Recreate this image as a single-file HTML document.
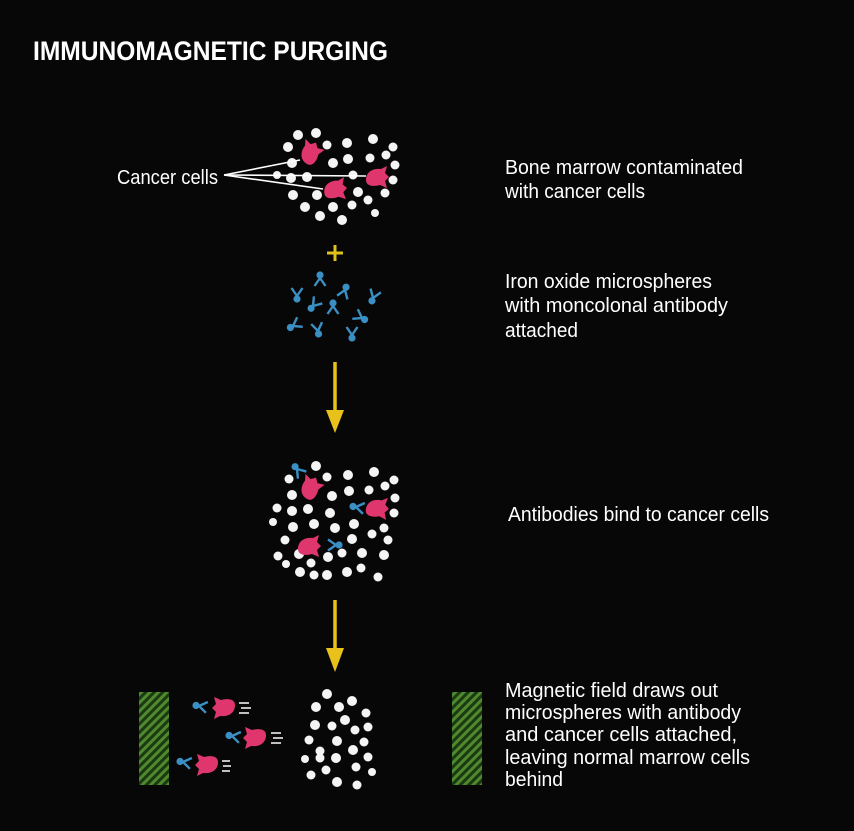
<!DOCTYPE html>
<html><head><meta charset="utf-8"><style>
html,body{margin:0;padding:0;background:#080707;}
svg{display:block}
text{font-family:"Liberation Sans Narrow","Liberation Sans",sans-serif;fill:#fff;}
</style></head><body>
<svg width="854" height="831" viewBox="0 0 854 831" xmlns="http://www.w3.org/2000/svg">
<defs>
<pattern id="hatch" width="6" height="6" patternUnits="userSpaceOnUse" patternTransform="rotate(45)">
<rect width="6" height="6" fill="#1c3a12"/><rect width="3" height="6" fill="#4f8a2e"/>
</pattern>
<g id="ab"><path d="M0 0 L-5.5 -8 M0 0 L5.5 -8" stroke="#3a8fc4" stroke-width="2.4" fill="none"/><circle cx="0" cy="3" r="3.6" fill="#3a8fc4"/></g>
<path id="cc" d="M-11 3 C-11 -6 -3 -9 4 -8 L10 -11 L8 -4 L12 0 L8 4 L10 11 L3 8 C-4 10 -11 9 -11 3Z" fill="#e0366e"/>
</defs>
<text x="33" y="60" font-size="27" font-weight="bold" textLength="355" lengthAdjust="spacingAndGlyphs" style="font-family:'Liberation Sans',sans-serif">IMMUNOMAGNETIC PURGING</text>

<g fill="#f4f4f4">
<circle cx="298" cy="135" r="5"/><circle cx="316" cy="133" r="5"/><circle cx="327" cy="145" r="4.5"/><circle cx="347" cy="143" r="5"/><circle cx="373" cy="139" r="5"/><circle cx="393" cy="147" r="4.5"/><circle cx="288" cy="147" r="5"/><circle cx="348" cy="159" r="5"/><circle cx="333" cy="163" r="5"/><circle cx="370" cy="158" r="4.5"/><circle cx="386" cy="155" r="4.5"/><circle cx="395" cy="165" r="4.5"/><circle cx="292" cy="163" r="5"/><circle cx="277" cy="175" r="4"/><circle cx="291" cy="178" r="5"/><circle cx="307" cy="177" r="5"/><circle cx="353" cy="175" r="4.5"/><circle cx="393" cy="180" r="4.5"/><circle cx="293" cy="195" r="5"/><circle cx="317" cy="195" r="5"/><circle cx="358" cy="192" r="5"/><circle cx="368" cy="200" r="4.5"/><circle cx="385" cy="193" r="4.5"/><circle cx="305" cy="207" r="5"/><circle cx="333" cy="207" r="5"/><circle cx="352" cy="205" r="4.5"/><circle cx="320" cy="216" r="5"/><circle cx="342" cy="220" r="5"/><circle cx="375" cy="213" r="4"/>
</g>
<use href="#cc" transform="translate(310,153) rotate(-60)"/>
<use href="#cc" transform="translate(377,177)"/>
<use href="#cc" transform="translate(335,189) rotate(-5)"/>
<g stroke="#fff" stroke-width="1.6"><line x1="224" y1="175" x2="300" y2="160"/><line x1="224" y1="175" x2="366" y2="176"/><line x1="224" y1="175" x2="323" y2="189"/></g>
<text x="117" y="184" font-size="20" textLength="101" lengthAdjust="spacingAndGlyphs">Cancer cells</text>

<g stroke="#e0c21c" stroke-width="3"><line x1="327" y1="253" x2="343" y2="253"/><line x1="335" y1="245" x2="335" y2="261"/></g>

<use href="#ab" transform="translate(320,278) rotate(180)"/>
<use href="#ab" transform="translate(345,290) rotate(200)"/>
<use href="#ab" transform="translate(373,298) rotate(20)"/>
<use href="#ab" transform="translate(297,296)"/>
<use href="#ab" transform="translate(313,306) rotate(40)"/>
<use href="#ab" transform="translate(333,306) rotate(180)"/>
<use href="#ab" transform="translate(362,318) rotate(-60)"/>
<use href="#ab" transform="translate(293,326) rotate(60)"/>
<use href="#ab" transform="translate(318,331) rotate(-10)"/>
<use href="#ab" transform="translate(352,335)"/>

<g fill="#e8c21a" stroke="#e8c21a">
<line x1="335" y1="362" x2="335" y2="412" stroke-width="3.5"/><path d="M326 410 L344 410 L335 433Z" stroke="none"/>
<line x1="335" y1="600" x2="335" y2="650" stroke-width="3.5"/><path d="M326 648 L344 648 L335 672Z" stroke="none"/>
</g>

<g fill="#f4f4f4">
<circle cx="316" cy="466" r="5"/><circle cx="289" cy="479" r="4.5"/><circle cx="327" cy="477" r="4.5"/><circle cx="348" cy="475" r="5"/><circle cx="374" cy="472" r="5"/><circle cx="394" cy="480" r="4.5"/><circle cx="292" cy="495" r="5"/><circle cx="332" cy="496" r="5"/><circle cx="349" cy="491" r="5"/><circle cx="369" cy="490" r="4.5"/><circle cx="385" cy="486" r="4.5"/><circle cx="395" cy="498" r="4.5"/><circle cx="277" cy="508" r="4.5"/><circle cx="292" cy="511" r="5"/><circle cx="308" cy="509" r="5"/><circle cx="330" cy="513" r="5"/><circle cx="394" cy="513" r="4.5"/><circle cx="273" cy="522" r="4"/><circle cx="293" cy="527" r="5"/><circle cx="314" cy="524" r="5"/><circle cx="335" cy="528" r="5"/><circle cx="354" cy="524" r="5"/><circle cx="384" cy="528" r="4.5"/><circle cx="285" cy="540" r="4.5"/><circle cx="352" cy="539" r="5"/><circle cx="372" cy="534" r="4.5"/><circle cx="388" cy="540" r="4.5"/><circle cx="278" cy="556" r="4.5"/><circle cx="299" cy="554" r="5"/><circle cx="328" cy="557" r="5"/><circle cx="342" cy="553" r="4.5"/><circle cx="362" cy="553" r="5"/><circle cx="384" cy="555" r="5"/><circle cx="300" cy="572" r="5"/><circle cx="286" cy="564" r="4"/><circle cx="311" cy="563" r="4.5"/><circle cx="327" cy="575" r="5"/><circle cx="347" cy="572" r="5"/><circle cx="361" cy="568" r="4.5"/><circle cx="378" cy="577" r="4.5"/><circle cx="314" cy="575" r="4.5"/>
</g>
<use href="#cc" transform="translate(310,488) rotate(-60)"/><use href="#ab" transform="translate(297,469) rotate(140)"/>
<use href="#cc" transform="translate(377,508) rotate(5)"/><use href="#ab" transform="translate(356,507) rotate(100)"/>
<use href="#cc" transform="translate(309,546)"/><use href="#ab" transform="translate(336,545) rotate(-90)"/>

<g fill="#f4f4f4">
<circle cx="327" cy="694" r="5"/><circle cx="352" cy="701" r="5"/><circle cx="316" cy="707" r="5"/><circle cx="339" cy="707" r="5"/><circle cx="345" cy="720" r="5"/><circle cx="366" cy="713" r="4.5"/><circle cx="315" cy="725" r="5"/><circle cx="332" cy="726" r="4.5"/><circle cx="355" cy="730" r="4.5"/><circle cx="368" cy="727" r="4.5"/><circle cx="309" cy="740" r="4.5"/><circle cx="337" cy="741" r="5"/><circle cx="364" cy="742" r="4.5"/><circle cx="320" cy="751" r="4.5"/><circle cx="353" cy="750" r="5"/><circle cx="305" cy="759" r="4"/><circle cx="320" cy="758" r="4.5"/><circle cx="336" cy="758" r="5"/><circle cx="368" cy="757" r="4.5"/><circle cx="326" cy="770" r="4.5"/><circle cx="356" cy="767" r="4.5"/><circle cx="311" cy="775" r="4.5"/><circle cx="337" cy="782" r="5"/><circle cx="357" cy="785" r="4.5"/><circle cx="372" cy="772" r="4"/>
</g>

<rect x="139" y="692" width="30" height="93" fill="url(#hatch)"/>
<rect x="452" y="692" width="30" height="93" fill="url(#hatch)"/>

<use href="#cc" transform="translate(224,708) rotate(180)"/><use href="#ab" transform="translate(199,706) rotate(100)"/>
<use href="#cc" transform="translate(255,738) rotate(180)"/><use href="#ab" transform="translate(232,736) rotate(100)"/>
<use href="#cc" transform="translate(207,765) rotate(180)"/><use href="#ab" transform="translate(183,762) rotate(100)"/>
<g stroke="#fff" stroke-width="1.5">
<line x1="239" y1="703" x2="249" y2="703"/><line x1="241" y1="708" x2="251" y2="708"/><line x1="239" y1="713" x2="249" y2="713"/>
<line x1="271" y1="733" x2="281" y2="733"/><line x1="273" y1="738" x2="283" y2="738"/><line x1="271" y1="743" x2="281" y2="743"/>
<line x1="222" y1="761" x2="230" y2="761"/><line x1="223" y1="766" x2="231" y2="766"/><line x1="222" y1="771" x2="230" y2="771"/>
</g>

<g font-size="20">
<text x="505" y="174" textLength="238" lengthAdjust="spacingAndGlyphs">Bone marrow contaminated</text>
<text x="505" y="198" textLength="140" lengthAdjust="spacingAndGlyphs">with cancer cells</text>
<text x="505" y="288" textLength="207" lengthAdjust="spacingAndGlyphs">Iron oxide microspheres</text>
<text x="505" y="312" textLength="223" lengthAdjust="spacingAndGlyphs">with moncolonal antibody</text>
<text x="505" y="337" textLength="73" lengthAdjust="spacingAndGlyphs">attached</text>
<text x="508" y="521" textLength="261" lengthAdjust="spacingAndGlyphs">Antibodies bind to cancer cells</text>
<text x="505" y="697" textLength="213" lengthAdjust="spacingAndGlyphs">Magnetic field draws out</text>
<text x="505" y="719" textLength="236" lengthAdjust="spacingAndGlyphs">microspheres with antibody</text>
<text x="505" y="741" textLength="232" lengthAdjust="spacingAndGlyphs">and cancer cells attached,</text>
<text x="505" y="764" textLength="245" lengthAdjust="spacingAndGlyphs">leaving normal marrow cells</text>
<text x="505" y="786" textLength="58" lengthAdjust="spacingAndGlyphs">behind</text>
</g>
</svg>
</body></html>
